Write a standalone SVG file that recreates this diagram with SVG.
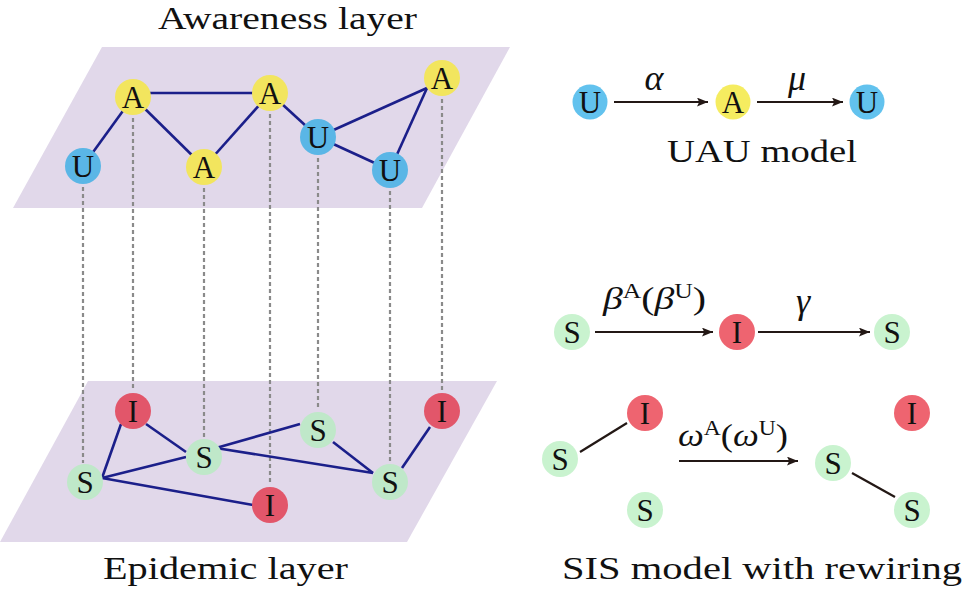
<svg xmlns="http://www.w3.org/2000/svg" width="964" height="591" viewBox="0 0 964 591">
<defs>
<marker id="ah" viewBox="0 0 10 8" refX="10" refY="4" markerWidth="11" markerHeight="9" markerUnits="userSpaceOnUse" orient="auto">
<path d="M0,0 L10,4 L0,8 L2,4 Z" fill="#231815"/>
</marker>
</defs>
<style>
.plane{fill:#e1d8ea}
.e{stroke:#1b1f8a;stroke-width:2.6;fill:none}
.d{stroke:#8a8a8a;stroke-width:2.2;stroke-dasharray:4 3;fill:none}
.arr{stroke:#231815;stroke-width:2.2;fill:none;marker-end:url(#ah)}
.k{stroke:#231815;stroke-width:2.2}
.U{fill:#5ab6e6}.A{fill:#f2e55e}.I{fill:#e2566a}.S{fill:#bfe8c9}
.U2{fill:#62c2ee}.A2{fill:#f5ec60}.I2{fill:#ee6470}.S2{fill:#c9f3cf}
text{font-family:"Liberation Serif","DejaVu Serif",serif;fill:#111}
.n{font-size:31px;text-anchor:middle}
.t{font-size:31px}
.m{font-size:31px;font-style:italic}
.g{font-size:36px;font-style:italic;text-anchor:middle}
.sup{font-size:20px;font-style:normal}
</style>
<g id="planes">
<polygon class="plane" points="102,47 510,47 422,208 13,208"/>
<polygon class="plane" points="88,381 497,381 407,542 0,542"/>
</g>
<g id="connectors">
<line class="e" x1="83" y1="166" x2="133" y2="97"/>
<line class="e" x1="133" y1="93" x2="270" y2="93"/>
<line class="e" x1="133" y1="97" x2="204" y2="167"/>
<line class="e" x1="204" y1="167" x2="270" y2="93"/>
<line class="e" x1="270" y1="93" x2="318" y2="137"/>
<line class="e" x1="318" y1="137" x2="427" y2="88"/>
<line class="e" x1="318" y1="137" x2="390" y2="170"/>
<line class="e" x1="390" y1="170" x2="427" y2="88"/>
<line class="d" x1="83" y1="187" x2="83" y2="463"/>
<line class="d" x1="133" y1="118" x2="133" y2="391"/>
<line class="d" x1="204" y1="188" x2="204" y2="437"/>
<line class="d" x1="270" y1="114" x2="270" y2="485"/>
<line class="d" x1="318" y1="158" x2="318" y2="410"/>
<line class="d" x1="390" y1="191" x2="390" y2="462"/>
<line class="d" x1="442" y1="99" x2="442" y2="391"/>
<line class="e" x1="102" y1="478" x2="121" y2="424"/>
<line class="e" x1="146" y1="424" x2="186" y2="452"/>
<line class="e" x1="102" y1="478" x2="186" y2="457"/>
<line class="e" x1="102" y1="478" x2="253" y2="505"/>
<line class="e" x1="216" y1="448" x2="300" y2="424"/>
<line class="e" x1="216" y1="448" x2="373" y2="473"/>
<line class="e" x1="333" y1="442" x2="373" y2="473"/>
<line class="e" x1="402" y1="468" x2="430" y2="427"/>
<line class="arr" x1="614" y1="102" x2="708" y2="102"/>
<line class="arr" x1="757" y1="102" x2="843" y2="102"/>
<line class="arr" x1="595" y1="332" x2="713" y2="332"/>
<line class="arr" x1="758" y1="332" x2="870" y2="332"/>
<line class="k" x1="580" y1="452" x2="627" y2="423"/>
<line class="arr" x1="679" y1="461" x2="798" y2="461"/>
<line class="k" x1="852" y1="473" x2="895" y2="497"/>
</g>
<g id="nU1"><circle class="U" cx="83" cy="166" r="18"/><text class="n" x="83" y="177">U</text></g>
<g id="nA1"><circle class="A" cx="133" cy="97" r="18"/><text class="n" x="133" y="108">A</text></g>
<g id="nA4"><circle class="A" cx="204" cy="167" r="18"/><text class="n" x="204" y="178">A</text></g>
<g id="nA2"><circle class="A" cx="270" cy="93" r="18"/><text class="n" x="270" y="104">A</text></g>
<g id="nU2"><circle class="U" cx="318" cy="137" r="18"/><text class="n" x="318" y="148">U</text></g>
<g id="nU3"><circle class="U" cx="390" cy="170" r="18"/><text class="n" x="390" y="181">U</text></g>
<g id="nA3"><circle class="A" cx="442" cy="78" r="18"/><text class="n" x="442" y="89">A</text></g>
<g id="nI1"><circle class="I" cx="133" cy="411" r="18"/><text class="n" x="133" y="422">I</text></g>
<g id="nS1"><circle class="S" cx="85" cy="482" r="18"/><text class="n" x="85" y="493">S</text></g>
<g id="nS2"><circle class="S" cx="204" cy="457" r="18"/><text class="n" x="204" y="468">S</text></g>
<g id="nS3"><circle class="S" cx="318" cy="430" r="18"/><text class="n" x="318" y="441">S</text></g>
<g id="nI2"><circle class="I" cx="270" cy="505" r="18"/><text class="n" x="270" y="516">I</text></g>
<g id="nS4"><circle class="S" cx="390" cy="482" r="18"/><text class="n" x="390" y="493">S</text></g>
<g id="nI3"><circle class="I" cx="442" cy="411" r="18"/><text class="n" x="442" y="422">I</text></g>
<g id="rU1"><circle class="U2" cx="590" cy="102" r="17.5"/><text class="n" x="590" y="113">U</text></g>
<g id="rA"><circle class="A2" cx="733" cy="102" r="17.5"/><text class="n" x="733" y="113">A</text></g>
<g id="rU2"><circle class="U2" cx="867" cy="102" r="17.5"/><text class="n" x="867" y="113">U</text></g>
<g id="rS1"><circle class="S2" cx="572" cy="332" r="18"/><text class="n" x="572" y="343">S</text></g>
<g id="rI"><circle class="I2" cx="737" cy="332" r="18"/><text class="n" x="737" y="343">I</text></g>
<g id="rS2"><circle class="S2" cx="892" cy="332" r="18"/><text class="n" x="892" y="343">S</text></g>
<g id="wI1"><circle class="I2" cx="645" cy="413" r="18"/><text class="n" x="645" y="424">I</text></g>
<g id="wS1"><circle class="S2" cx="560" cy="459" r="18"/><text class="n" x="560" y="470">S</text></g>
<g id="wS2"><circle class="S2" cx="645" cy="510" r="18"/><text class="n" x="645" y="521">S</text></g>
<g id="wI2"><circle class="I2" cx="912" cy="413" r="18"/><text class="n" x="912" y="424">I</text></g>
<g id="wS3"><circle class="S2" cx="833" cy="463" r="18"/><text class="n" x="833" y="474">S</text></g>
<g id="wS4"><circle class="S2" cx="912" cy="510" r="18"/><text class="n" x="912" y="521">S</text></g>
<g id="labels">
<text class="t" x="158" y="29" textLength="259" lengthAdjust="spacingAndGlyphs">Awareness layer</text>
<text class="t" x="103" y="579" textLength="245" lengthAdjust="spacingAndGlyphs">Epidemic layer</text>
<text class="t" x="667" y="162" textLength="190" lengthAdjust="spacingAndGlyphs">UAU model</text>
<text class="t" x="562" y="579" textLength="400" lengthAdjust="spacingAndGlyphs">SIS model with rewiring</text>
<text class="g" x="654" y="90">α</text>
<text class="g" x="797" y="90">μ</text>
<text class="m" x="603" y="309" textLength="103" lengthAdjust="spacingAndGlyphs">β<tspan class="sup" dy="-11">A</tspan><tspan dy="11" font-style="normal">(</tspan>β<tspan class="sup" dy="-11">U</tspan><tspan dy="11" font-style="normal">)</tspan></text>
<text class="g" x="803" y="313">γ</text>
<text class="m" x="678" y="446" textLength="110" lengthAdjust="spacingAndGlyphs">ω<tspan class="sup" dy="-11">A</tspan><tspan dy="11" font-style="normal">(</tspan>ω<tspan class="sup" dy="-11">U</tspan><tspan dy="11" font-style="normal">)</tspan></text>
</g>
</svg>
